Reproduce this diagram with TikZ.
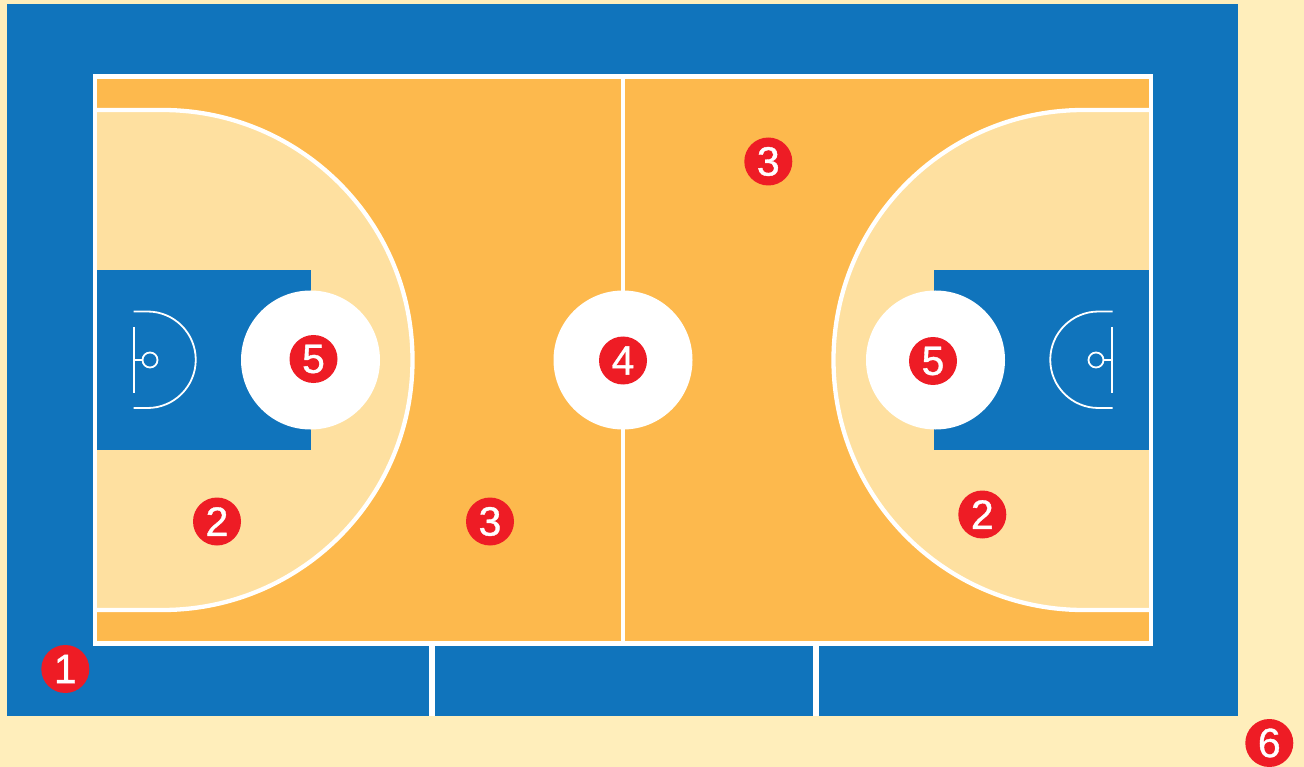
\documentclass[tikz,border=0pt]{standalone}
\usepackage{fontspec}
\setmainfont{Liberation Sans}
\newfontfamily\badgefont[FakeBold=0.9]{Liberation Sans}
\definecolor{bgcol}{HTML}{FFEEBB}
\definecolor{bluecol}{HTML}{1074BC}
\definecolor{orangecol}{HTML}{FDB94D}
\definecolor{lightcol}{HTML}{FEE0A0}
\definecolor{redcol}{HTML}{EE1C25}
\tikzset{
  badge/.style={circle,fill=redcol,text=white,minimum size=48pt,inner sep=0pt,font=\badgefont\fontsize{41}{41}\selectfont},
  hole/.style={circle,fill=white,minimum size=139pt,inner sep=0pt},
  courtline/.style={draw=white,line width=4.3pt},
  thinline/.style={draw=white,line width=1.8pt},
}
\begin{document}
\begin{tikzpicture}[x=1pt,y=-1pt]
\useasboundingbox (0,0) rectangle (1304,767);
\fill[bgcol] (0,0) rectangle (1304,767);
\fill[bluecol] (7,4) rectangle (1238,716);
\fill[orangecol] (95,76.5) rectangle (1151,643.5);
% three-point areas
\fill[lightcol] (95,110) -- (162.5,110) arc[start angle=90,end angle=-90,radius=250pt] -- (95,610) -- cycle;
\fill[lightcol] (1151,110) -- (1083.5,110) arc[start angle=90,end angle=270,radius=250pt] -- (1151,610) -- cycle;
\draw[courtline] (95,110) -- (162.5,110) arc[start angle=90,end angle=-90,radius=250pt] -- (95,610);
\draw[courtline] (1151,110) -- (1083.5,110) arc[start angle=90,end angle=270,radius=250pt] -- (1151,610);
% keys
\fill[bluecol] (97,270) rectangle (311,450);
\fill[bluecol] (934,270) rectangle (1149,450);
% centre and bench lines
\draw[courtline] (623,76.5) -- (623,643.5);
\draw[draw=white,line width=5.4pt] (432,643.5) -- (432,716);
\draw[draw=white,line width=5.4pt] (816,643.5) -- (816,716);
\draw[courtline] (95,76.5) rectangle (1151,643.5);
% holes
\node[hole] (holeL) at (310.5,360) {};
\node[hole] (holeC) at (623,360) {};
\node[hole] (holeR) at (935.5,360) {};
% baskets, left
\draw[thinline] (133.5,311.5) -- (147.5,311.5) arc[start angle=90,end angle=-90,radius=48.25pt] -- (133.5,408);
\draw[thinline] (134,327) -- (134,393);
\node[circle,thinline,minimum size=15pt,inner sep=0pt] (ringL) at (150,360) {};
\draw[thinline] (134,360) -- (ringL.west);
% baskets, right
\draw[thinline] (1112.5,311.5) -- (1098.5,311.5) arc[start angle=90,end angle=270,radius=48.25pt] -- (1112.5,408);
\draw[thinline] (1112,327) -- (1112,393);
\node[circle,thinline,minimum size=15pt,inner sep=0pt] (ringR) at (1096,360) {};
\draw[thinline] (1112,360) -- (ringR.east);
% badges
\node[badge] (n1) at (65.3,669) {1};
\node[badge] (n2a) at (217,521.5) {2};
\node[badge] (n2b) at (982.3,514.5) {2};
\node[badge] (n3a) at (490,521.5) {3};
\node[badge] (n3b) at (768.3,161.5) {3};
\node[badge] (n4) at (623,360.5) {4};
\node[badge] (n5a) at (313.5,359) {5};
\node[badge] (n5b) at (933,361) {5};
\node[badge] (n6) at (1269.3,743) {6};
\end{tikzpicture}
\end{document}
